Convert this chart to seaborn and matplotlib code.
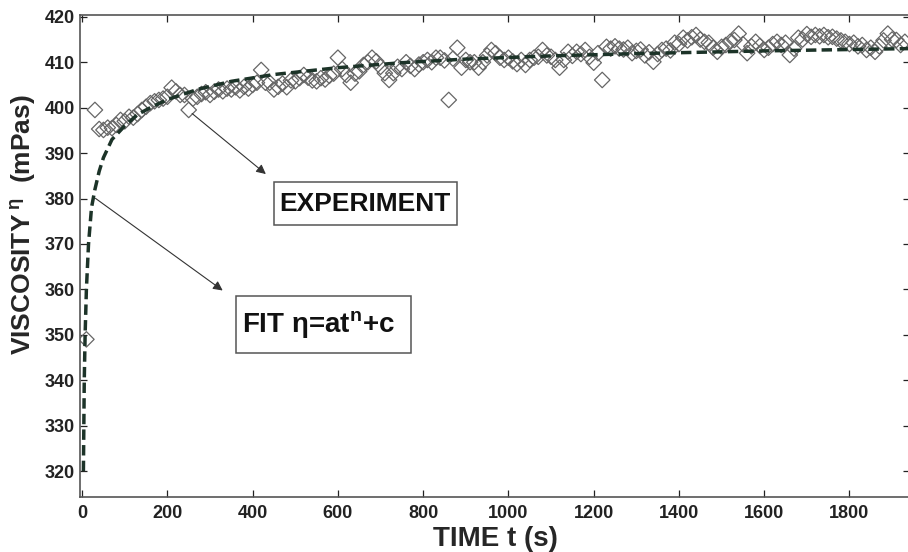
import numpy as np
import matplotlib
matplotlib.use("Agg")
import matplotlib.pyplot as plt
import seaborn as sns
from matplotlib.patches import Rectangle

nan = np.nan

# measured points, one every 10 s
time_s = np.arange(10, 1940, 10)
viscosity = [
    349.0, nan, 399.5, 395.3, 395.1, 395.6, 395.5, 396.2, 397.3, 397.0,
    398.0, 397.8, 398.6, 399.5, 400.2, 401.0, 401.4, 401.7, 402.0, 402.4,
    404.4, 403.6, 402.8, 402.8, 399.5, 402.0, 402.4, 403.0, 403.4, 402.8,
    403.5, 404.0, 403.6, 404.2, 404.0, 404.5, 403.8, 404.6, 404.2, 405.0,
    405.5, 408.3, 405.5, 405.5, 404.0, 404.6, 405.3, 404.5, 406.0, 405.8,
    406.5, 407.2, 406.6, 406.0, 405.8, 406.5, 406.2, 407.0, 407.5, 411.0,
    408.5, 407.2, 405.5, 407.5, 408.0, 409.4, 410.0, 411.0, 410.2, 409.0,
    407.6, 406.1, 407.6, 409.0, 408.5, 410.0, 409.2, 408.5, 409.5, 410.0,
    410.5, 410.0, 411.0, 411.0, 410.4, 401.7, 410.8, 413.2, 408.8, 410.5,
    410.0, 410.0, 408.8, 410.0, 411.5, 412.7, 412.0, 411.0, 410.5, 411.0,
    410.2, 409.6, 410.5, 409.4, 410.5, 411.0, 411.2, 412.7, 411.5, 411.2,
    410.5, 408.8, 410.5, 412.3, 411.4, 412.3, 411.8, 412.7, 411.2, 409.9,
    412.0, 406.1, 413.4, 413.0, 413.5, 413.0, 412.8, 413.2, 412.0, 412.5,
    412.8, 411.5, 412.2, 410.1, 411.8, 412.7, 413.0, 412.6, 414.3, 414.0,
    415.4, 414.8, 415.5, 416.0, 415.0, 414.5, 414.3, 413.2, 412.3, 413.4,
    413.8, 414.5, 414.9, 416.3, 414.0, 412.0, 413.5, 414.5, 413.6, 412.7,
    413.2, 414.0, 414.5, 413.8, 414.3, 411.6, 413.0, 415.4, 415.0, 416.2,
    415.6, 416.0, 415.7, 416.0, 415.5, 415.6, 415.2, 414.8, 414.5, 414.0,
    414.3, 413.5, 413.8, 412.7, 413.2, 412.3, 413.5, 414.8, 416.3, 415.0,
    414.9, 413.8, 414.5,
]

# fit curve
fit_t = [3, 5, 7, 10, 15, 22, 30, 40, 50, 70, 100, 130, 160, 200, 270,
         350, 450, 600, 750, 900, 1100, 1300, 1450, 1600, 1800, 1940]
fit_eta = [320.0, 340.0, 350.0, 360.0, 370.0, 378.0, 382.0, 386.0, 389.0,
           393.0, 396.0, 398.5, 400.0, 401.8, 404.0, 405.8, 407.3, 408.8,
           409.9, 410.7, 411.4, 411.9, 412.2, 412.5, 412.8, 413.0]

sns.set_theme(style="ticks")
plt.rcParams['font.family'] = ['Liberation Sans', 'DejaVu Sans']
plt.rcParams['font.weight'] = 'bold'
plt.rcParams['mathtext.fontset'] = 'custom'
plt.rcParams['mathtext.rm'] = 'Liberation Sans'
plt.rcParams['mathtext.default'] = 'regular'

fig = plt.figure(figsize=(9.08, 5.52), dpi=100)
ax = fig.add_axes([80 / 908, 1 - 497 / 552, 830 / 908, 482 / 552])

sns.scatterplot(x=time_s, y=viscosity, marker='D', s=62, facecolor='none',
                edgecolor='#666666', linewidth=0.9, ax=ax, zorder=2)
sns.lineplot(x=fit_t, y=fit_eta, color='#1c3328', linewidth=2.5,
             linestyle=(0, (3.0, 1.5)), ax=ax, zorder=3)

ax.set_xlim(-5, 1942)
ax.set_ylim(314.3, 420.4)
ax.set_xticks(range(0, 1801, 200))
ax.set_yticks(range(320, 421, 10))
ax.tick_params(direction='in', length=5, width=0.9, top=True, right=True,
               labelsize=13, colors='#222222')
ax.tick_params(axis='x', pad=6)
for lab in ax.get_xticklabels() + ax.get_yticklabels():
    lab.set_fontweight('bold')
for sp in ax.spines.values():
    sp.set_color('#555555')
    sp.set_linewidth(1.2)

ax.set_xlabel("TIME t (s)", fontsize=20, fontweight='bold', labelpad=3)
ax.set_ylabel("VISCOSITY$\\,^{\\eta}$  (mPas)", fontsize=19,
              fontweight='bold', labelpad=2)
ax.yaxis.set_label_coords(-0.05, 0.566)

# labels with boxes and arrows
ax.add_patch(Rectangle((450, 374.2), 429, 9.5, fill=False,
                       edgecolor='#555555', linewidth=1.1, zorder=4))
ax.text(664, 378.9, "EXPERIMENT", ha='center', va='center', fontsize=19,
        fontweight='bold', color='#111111', zorder=5)
ax.annotate("", xy=(436, 385), xytext=(253, 399.1),
            arrowprops=dict(arrowstyle='-|>', color='#333333', lw=0.8,
                            mutation_scale=14))

ax.add_patch(Rectangle((361, 346.0), 410, 12.5, fill=False,
                       edgecolor='#555555', linewidth=1.1, zorder=4))
ax.text(376, 352.2, "FIT η=at$^{n}$+c", ha='left', va='center',
        fontsize=20, fontweight='bold', color='#111111', zorder=5)
ax.annotate("", xy=(335, 359.4), xytext=(26, 380.4),
            arrowprops=dict(arrowstyle='-|>', color='#333333', lw=0.8,
                            mutation_scale=14))

fig.savefig("out.png", dpi=100)
